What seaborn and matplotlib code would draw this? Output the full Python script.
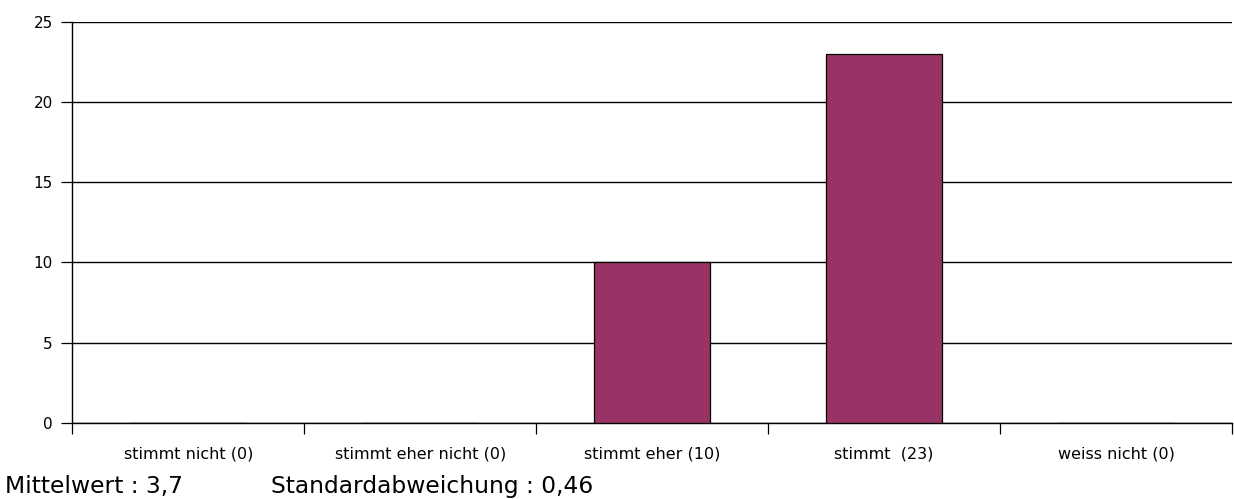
"""Bar chart of survey answers with mean / std footer."""
import matplotlib
matplotlib.use("Agg")
import matplotlib.pyplot as plt
import numpy as np
import pandas as pd
import seaborn as sns

categories = ["stimmt nicht (0)", "stimmt eher nicht (0)", "stimmt eher (10)",
              "stimmt  (23)", "weiss nicht (0)"]
counts = [0, 0, 10, 23, 0]
y_ticks = [0, 5, 10, 15, 20, 25]
footer_mean = "Mittelwert : 3,7"
footer_std = "Standardabweichung : 0,46"

BAR_COLOR = "#993366"

sns.set_style("white")
plt.rcParams["font.family"] = ["DejaVu Sans"]
plt.rcParams["text.color"] = "black"
plt.rcParams["xtick.color"] = "black"
plt.rcParams["ytick.color"] = "black"

df = pd.DataFrame({"answer": categories, "count": counts})

fig = plt.figure(figsize=(12.34, 4.99), dpi=100)
ax = fig.add_axes([0.0586, 0.1529, 0.9398, 0.8030])

sns.barplot(data=df, x="answer", y="count", color=BAR_COLOR, saturation=1,
            width=0.5, edgecolor="black", linewidth=0.9, ax=ax, zorder=3)

ax.set_ylim(0, 25)
ax.set_xlim(-0.5, len(categories) - 0.5)
ax.set_yticks(y_ticks)
ax.yaxis.grid(True, color="black", linewidth=1.0, zorder=0)
ax.set_axisbelow(True)

# labels centred under each bar, tick marks on the category boundaries
ax.set_xticks(np.arange(len(categories)))
ax.set_xticklabels(categories, fontsize=11.5)
ax.set_xticks(np.arange(len(categories) + 1) - 0.5, minor=True)
ax.tick_params(axis="x", which="major", bottom=True, length=0, pad=17)
ax.tick_params(axis="x", which="minor", bottom=True, length=8, width=0.9,
               color="black", direction="out")
ax.tick_params(axis="y", left=True, length=8, width=0.9, color="black",
               direction="out", labelsize=11, pad=6)

for side in ("top", "right"):
    ax.spines[side].set_visible(False)
for side in ("left", "bottom"):
    ax.spines[side].set_color("black")
    ax.spines[side].set_linewidth(1.0)

ax.set_xlabel("")
ax.set_ylabel("")

fig.text(0.004, 0.012, footer_mean, fontsize=16.8, ha="left", va="baseline")
fig.text(0.2196, 0.012, footer_std, fontsize=16.8, ha="left", va="baseline")

fig.savefig("out.png", dpi=100, facecolor="white")
